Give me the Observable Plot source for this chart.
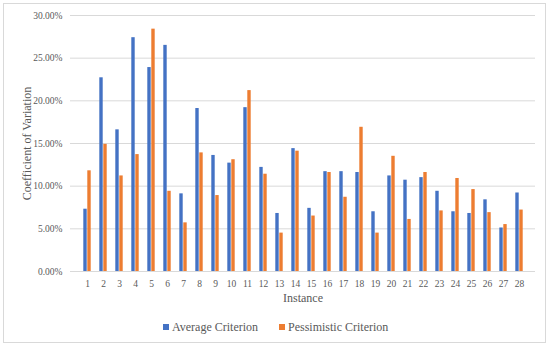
<!DOCTYPE html>
<html><head><meta charset="utf-8">
<script src="https://cdn.jsdelivr.net/npm/d3@7"></script>
<script src="https://cdn.jsdelivr.net/npm/@observablehq/plot@0.6"></script>
<style>
body{margin:0;background:#fff;}
#wrap{position:relative;width:550px;height:347px;font-family:"Liberation Serif","Times New Roman","DejaVu Serif",serif;color:#595959;overflow:hidden;}
#frame{position:absolute;left:3px;top:3px;width:541px;height:338px;border:1px solid #d9d9d9;box-sizing:content-box;}
#chart{position:absolute;left:0;top:0;}
#chart svg, #chart svg text{font-family:"Liberation Serif","Times New Roman","DejaVu Serif",serif !important;}
.lg{position:absolute;top:319px;font-size:12px;line-height:16px;white-space:nowrap;}
.sw{display:inline-block;width:6px;height:6px;margin-right:3px;vertical-align:1px;}
g[aria-label="x-axis label"] text, g[aria-label="y-axis label"] text{font-size:12px;}
</style></head>
<body>
<div id="wrap"><div id="frame"></div><div id="chart"></div>
<div class="lg" id="lg1" style="left:163px"></div>
<div class="lg" id="lg2" style="left:279px"></div>
</div>
<script>
const instances = ["1","2","3","4","5","6","7","8","9","10","11","12","13","14","15","16","17","18","19","20","21","22","23","24","25","26","27","28"];
const averageCriterion = [7.3,22.7,16.6,27.4,23.9,26.5,9.1,19.1,13.6,12.7,19.2,12.2,6.8,14.4,7.4,11.7,11.7,11.6,7.0,11.2,10.7,11.0,9.4,7.0,6.8,8.4,5.1,9.2];
const pessimisticCriterion = [11.8,14.9,11.2,13.7,28.4,9.4,5.7,13.9,8.9,13.1,21.2,11.4,4.5,14.1,6.5,11.6,8.7,16.9,4.5,13.5,6.1,11.6,7.1,10.9,9.6,6.9,5.5,7.2];
const seriesNames = ["Average Criterion","Pessimistic Criterion"];
const yTicks = [0,5,10,15,20,25,30];
const colors = ["#4472C4","#ED7D31"];

const rows = instances.map((k,i)=>({instance:k, avg:averageCriterion[i], pes:pessimisticCriterion[i]}));

const chart = Plot.plot({
  width:550, height:310,
  marginLeft:70, marginRight:15, marginTop:15, marginBottom:39,
  style:{fontSize:"9.5px", color:"#595959", background:"transparent"},
  x:{domain:instances, padding:0},
  y:{domain:[0,30]},
  marks:[
    Plot.gridY(yTicks, {stroke:"#d9d9d9", strokeOpacity:1}),
    Plot.barY(rows, {x:"instance", y:"avg", fill:colors[0], insetLeft:4.3, insetRight:8.3}),
    Plot.barY(rows, {x:"instance", y:"pes", fill:colors[1], insetLeft:8.3, insetRight:4.3}),
    Plot.axisX({tickSize:0, tickPadding:8.6, label:"Instance", labelAnchor:"center", labelArrow:"none", labelOffset:30}),
    Plot.axisY(yTicks, {tickSize:0, tickPadding:8, tickFormat:d=>d.toFixed(2)+"%", label:"Coefficient of Variation", labelAnchor:"center", labelArrow:"none", labelOffset:48})
  ]
});
document.getElementById("chart").appendChild(chart);
["lg1","lg2"].forEach((id,i)=>{
  const el=document.getElementById(id);
  el.innerHTML='<span class="sw" style="background:'+colors[i]+'"></span>'+seriesNames[i];
});
</script>
</body></html>
